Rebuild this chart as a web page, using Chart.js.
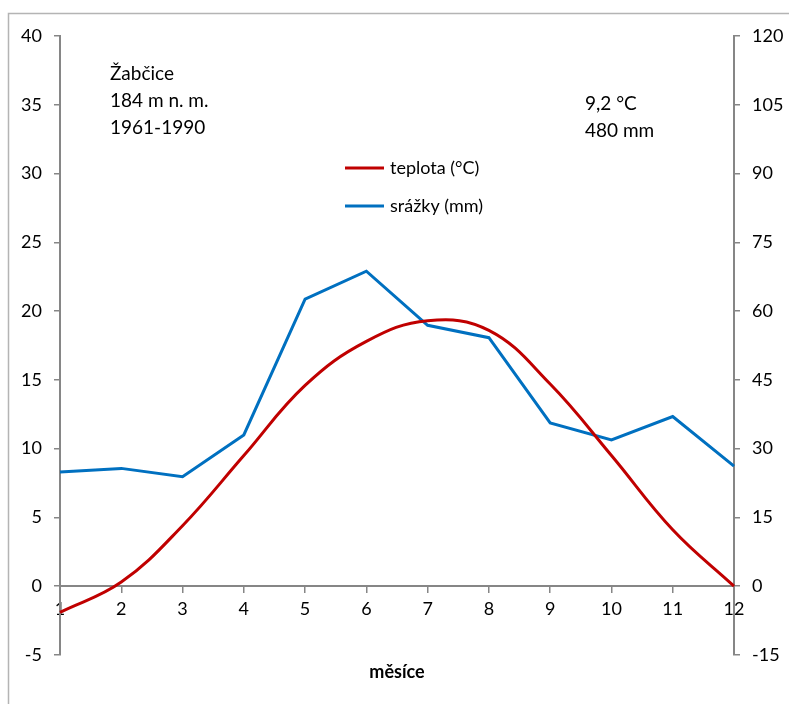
<!DOCTYPE html>
<html>
<head>
<meta charset="utf-8">
<script src="https://cdn.jsdelivr.net/npm/chart.js@4"></script>
<style>
  html, body { margin: 0; padding: 0; background: #fff; }
  #wrap { width: 789px; height: 704px; }
</style>
</head>
<body>
<div id="wrap"><canvas id="myChart" width="789" height="704"></canvas></div>
<script>
// data
const mesice = ['1', '2', '3', '4', '5', '6', '7', '8', '9', '10', '11', '12'];
const teplota = [-1.9, 0.3, 4.4, 9.5, 14.6, 17.8, 19.3, 18.6, 14.7, 9.5, 4.1, 0.0];
const srazky = [24.9, 25.7, 23.9, 33.0, 62.6, 68.7, 56.9, 54.2, 35.6, 31.9, 37.0, 26.2];
const leftTicks = [-5, 40, 5];
const rightTicks = [-15, 120, 15];

const FONT = 'Lato, "Open Sans", sans-serif';
const GRAY = '#868686';
const RED = '#c00000';
const BLUE = '#0070c0';

// frame, texts and legend
const extras = {
  id: 'extras',
  beforeDraw(chart) {
    const c = chart.ctx;
    c.save();
    c.strokeStyle = '#b4b4b4';
    c.lineWidth = 1.5;
    c.strokeRect(8.5, 13.5, 820, 720);
    c.restore();
  },
  afterDraw(chart) {
    const c = chart.ctx;
    c.save();
    c.fillStyle = '#000';
    c.textBaseline = 'alphabetic';
    c.font = '19px ' + FONT;
    c.textAlign = 'left';
    c.fillText('Žabčice', 110, 80);
    c.fillText('184 m n. m.', 110, 107);
    c.fillText('1961-1990', 110, 134);
    c.fillText('9,2 °C', 585, 110);
    c.fillText('480 mm', 585, 137);

    // legend
    const items = [['teplota (°C)', RED, 168], ['srážky (mm)', BLUE, 206]];
    c.font = '18px ' + FONT;
    c.textBaseline = 'middle';
    items.forEach(function(it) {
      c.strokeStyle = it[1];
      c.lineWidth = 3;
      c.beginPath();
      c.moveTo(345, it[2]);
      c.lineTo(384, it[2]);
      c.stroke();
      c.fillText(it[0], 390, it[2]);
    });

    c.font = 'bold 18px ' + FONT;
    c.textAlign = 'center';
    c.fillText('měsíce', 397, 672);
    c.restore();
  }
};

const ctx = document.getElementById('myChart').getContext('2d');
const myChart = new Chart(ctx, {
  type: 'line',
  data: {
    labels: mesice,
    datasets: [{
      label: 'teplota (°C)',
      data: teplota,
      yAxisID: 'y',
      borderColor: RED,
      borderWidth: 3,
      tension: 0.4,
      pointRadius: 0,
      fill: false
    }, {
      label: 'srážky (mm)',
      data: srazky,
      yAxisID: 'y1',
      borderColor: BLUE,
      borderWidth: 3,
      tension: 0,
      pointRadius: 0,
      fill: false
    }]
  },
  options: {
    responsive: false,
    animation: false,
    layout: { padding: { top: 36, bottom: 49, left: 0, right: 0 } },
    plugins: {
      legend: { display: false },
      tooltip: { enabled: false }
    },
    scales: {
      x: {
        type: 'category',
        offset: false,
        position: { y: 0 },
        grid: { drawOnChartArea: false, color: GRAY, lineWidth: 1.5, tickLength: 6 },
        border: { color: GRAY, width: 2 },
        ticks: { color: '#000', font: { family: FONT, size: 18 }, padding: 6, maxRotation: 0, autoSkip: false }
      },
      y: {
        position: 'left',
        min: leftTicks[0],
        max: leftTicks[1],
        ticks: { stepSize: leftTicks[2], color: '#000', font: { family: FONT, size: 18 }, padding: 12 },
        grid: { drawOnChartArea: false, color: GRAY, lineWidth: 1.5, tickLength: 6 },
        border: { color: GRAY, width: 2 },
        afterFit(scale) { scale.width = 60; }
      },
      y1: {
        position: 'right',
        min: rightTicks[0],
        max: rightTicks[1],
        ticks: { stepSize: rightTicks[2], color: '#000', font: { family: FONT, size: 18 }, padding: 12 },
        grid: { drawOnChartArea: false, color: GRAY, lineWidth: 1.5, tickLength: 6 },
        border: { color: GRAY, width: 2 },
        afterFit(scale) { scale.width = 55; }
      }
    }
  },
  plugins: [extras]
});
</script>
</body>
</html>
